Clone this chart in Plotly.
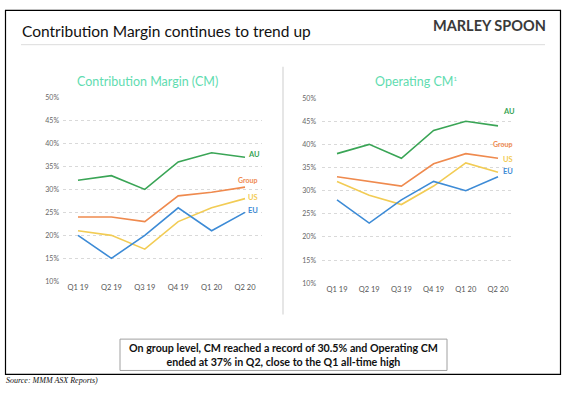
import plotly.graph_objects as go

W, H = 568, 396

quarters = ["Q1 19", "Q2 19", "Q3 19", "Q4 19", "Q1 20", "Q2 20"]
y_ticks = [10, 15, 20, 25, 30, 35, 40, 45, 50]
y_tick_labels = [f"{v}%" for v in y_ticks]

series_names = ["AU", "Group", "US", "EU"]
colors = {"AU": "#3aa556", "Group": "#ef8a4e", "US": "#f2cc55", "EU": "#3d8bd6"}

# Contribution Margin (CM), %
cm_au = [32, 33, 30, 36, 38, 37]
cm_group = [24, 24, 23, 28.6, 29.4, 30.5]
cm_us = [21, 20, 17, 23, 26, 28]
cm_eu = [20, 15, 20, 26, 21, 25]

# Operating CM, %
ocm_au = [38, 40, 37, 43, 45, 44]
ocm_group = [33, 32, 31, 35.8, 38, 37]
ocm_us = [32, 29, 27, 31, 36, 34]
ocm_eu = [28, 23, 28, 32, 30, 33]

cm = {"AU": cm_au, "Group": cm_group, "US": cm_us, "EU": cm_eu}
ocm = {"AU": ocm_au, "Group": ocm_group, "US": ocm_us, "EU": ocm_eu}


def px(x):
    return x / W


def py(y):
    return 1 - y / H


fig = go.Figure()
idx = list(range(len(quarters)))
for name in series_names:
    fig.add_trace(go.Scatter(x=idx, y=cm[name], mode="lines", xaxis="x", yaxis="y",
                             line=dict(color=colors[name], width=1.6), showlegend=False,
                             hoverinfo="skip"))
    fig.add_trace(go.Scatter(x=idx, y=ocm[name], mode="lines", xaxis="x2", yaxis="y2",
                             line=dict(color=colors[name], width=1.6), showlegend=False,
                             hoverinfo="skip"))

tickfont_y = dict(family="Lato", size=7, color="#666")
tickfont_x = dict(family="Lato", size=7.5, color="#555")

xcommon = dict(tickmode="array", tickvals=idx, ticktext=quarters, showgrid=False,
               zeroline=False, showline=False, ticks="", tickfont=tickfont_x, fixedrange=True)
ycommon = dict(tickmode="array", tickvals=y_ticks, ticktext=y_tick_labels, showgrid=True,
               gridcolor="#d9d9d9", griddash="dot", gridwidth=1, zeroline=False,
               showline=False, ticks="", tickfont=tickfont_y, range=[10, 50], fixedrange=True)

u1 = (245 - 78) / 5
u2 = (498 - 337) / 5
fig.update_layout(
    width=W, height=H,
    margin=dict(l=0, r=0, t=0, b=0),
    paper_bgcolor="white", plot_bgcolor="white",
    xaxis=dict(domain=[px(63), px(262)], range=[-(78 - 63) / u1, 5 + (262 - 245) / u1],
               anchor="y", **xcommon),
    yaxis=dict(domain=[py(282), py(94.5)], anchor="x", ticklabelstandoff=3, **ycommon),
    xaxis2=dict(domain=[px(322), px(513)], range=[-(337 - 322) / u2, 5 + (513 - 498) / u2],
                anchor="y2", **xcommon),
    yaxis2=dict(domain=[py(284), py(95)], anchor="x2", ticklabelstandoff=5, **ycommon),
)

shapes = [
    dict(type="rect", xref="paper", yref="paper", x0=px(5.5), x1=px(560.5), y0=py(377), y1=py(5.5),
         line=dict(color="black", width=1.2), fillcolor="rgba(0,0,0,0)"),
    dict(type="line", xref="paper", yref="paper", x0=px(21), x1=px(545), y0=py(40.5), y1=py(40.5),
         line=dict(color="#dcdcdc", width=1)),
    dict(type="line", xref="paper", yref="paper", x0=px(283), x1=px(283), y0=py(63), y1=py(316),
         line=dict(color="#e6e6e6", width=2)),
    dict(type="rect", xref="paper", yref="paper", x0=px(120), x1=px(447), y0=py(373), y1=py(341),
         line=dict(color="#a0a0a0", width=1), fillcolor="white"),
]
fig.update_layout(shapes=shapes)

ann = []


def text(x, y, s, size, color, family="Lato", xanchor="left", bold=False, italic=False):
    if bold:
        s = f"<b>{s}</b>"
    if italic:
        s = f"<i>{s}</i>"
    ann.append(dict(x=px(x), y=py(y), xref="paper", yref="paper", text=s, showarrow=False,
                    xanchor=xanchor, yanchor="middle", font=dict(family=family, size=size, color=color)))


text(20, 27, "Contribution Margin continues to trend up", 15.5, "#111", family="Lato")
text(548, 21, "<b>MARLEY SPOON</b>", 14.5, "#3a3a3a", family="Lato", xanchor="right")
text(147, 78, "Contribution Margin (CM)", 12.5, "#5fdcb0", xanchor="center")
text(416, 78, "Operating CM<sup><span style='font-size:6px'>1</span></sup>", 12.5, "#5fdcb0", xanchor="center")

text(262, 153, "AU", 7.5, colors["AU"], xanchor="right", bold=True)
text(260, 179, "Group", 7, colors["Group"], xanchor="right", bold=True)
text(260, 196, "US", 7.5, colors["US"], xanchor="right", bold=True)
text(260, 210, "EU", 7.5, colors["EU"], xanchor="right", bold=True)
text(517, 109, "AU", 7.5, colors["AU"], xanchor="right", bold=True)
text(515, 142, "Group", 7, colors["Group"], xanchor="right", bold=True)
text(515, 158, "US", 7.5, colors["US"], xanchor="right", bold=True)
text(515, 170, "EU", 7.5, colors["EU"], xanchor="right", bold=True)

ann.append(dict(x=px(283.5), y=py(357), xref="paper", yref="paper",
                text="<b>On group level, CM reached a record of 30.5% and Operating CM<br>ended at 37% in Q2, close to the Q1 all-time high</b>",
                showarrow=False, xanchor="center", yanchor="middle", align="center",
                font=dict(family="Lato", size=10.7, color="#111")))

text(4, 383, "Source: MMM ASX Reports)", 8, "#111", family="Liberation Serif", italic=True)

fig.update_layout(annotations=ann)

fig.write_html("out.html", config={"displayModeBar": False},
               post_script="document.body.style.margin='0px';")
